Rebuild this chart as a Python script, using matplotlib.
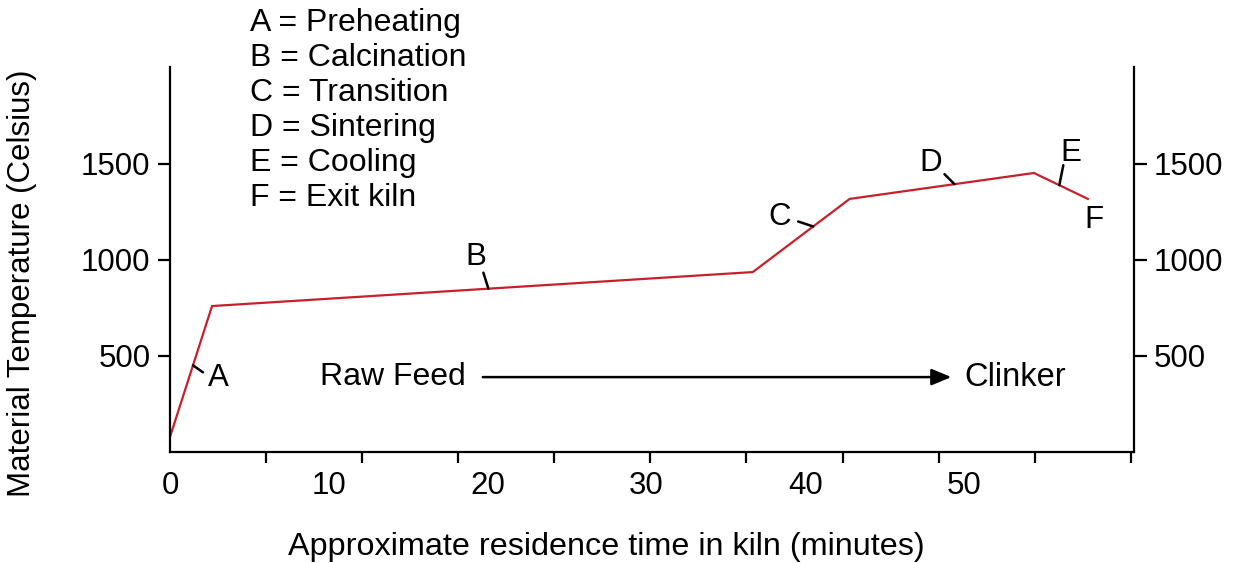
import numpy as np
import matplotlib.pyplot as plt

plt.rcParams["font.family"] = ["Liberation Sans", "DejaVu Sans"]

# Courbe de température de la matière dans le four (minutes, °C)
temps = [0, 2.65, 36.7, 42.8, 54.4, 57.8]
temperature = [78, 760, 937, 1318, 1453, 1318]

# Phases et leur description
phases = ["A", "B", "C", "D", "E", "F"]
descriptions = ["Preheating", "Calcination", "Transition", "Sintering", "Cooling", "Exit kiln"]
# position (en minutes) du repère de chaque phase sur la courbe
phases_temps = [1.45, 20.05, 40.5, 49.4, 56.0, 57.8]

graduations_x = [0, 10, 20, 30, 40, 50]
graduations_y = [500, 1000, 1500]

# Décalages en pixels : trait de repère puis lettre
decalage_trait = [(10, -7), (-5, 16), (-15, 5), (-10, 10), (4, 20), None]
decalage_lettre = [(25, -13), (-13, 32), (-34, 9), (-24, 21), (11, 32), (6, -21)]

fig = plt.figure(figsize=(12.37, 5.63), dpi=100)
ax = fig.add_axes([0.1374, 0.1972, 0.7793, 0.6838])

ax.plot(temps, temperature, color="#c8202a", linewidth=1.6, solid_joinstyle="miter")

ax.set_xlim(0, 60.7)
ax.set_ylim(0, 2005)

# Graduations principales (étiquettes seules) et secondaires (traits)
ax.set_xticks(graduations_x)
ax.set_xticklabels([str(v) for v in graduations_x])
ax.set_xticks(np.linspace(0, 60.5, 11), minor=True)
ax.tick_params(axis="x", which="major", length=0, pad=14, labelsize=22.5)
ax.tick_params(axis="x", which="minor", length=8, width=1.6, direction="out")

ax.set_yticks(graduations_y)
ax.tick_params(axis="y", which="major", length=9, width=1.6, direction="out",
               labelsize=22.5, left=True, right=True, labelleft=True, labelright=True, pad=5)

for cote in ["left", "right", "bottom"]:
    ax.spines[cote].set_linewidth(1.6)
ax.spines["top"].set_visible(False)

# Repères des phases sur la courbe
for lettre, t, trait, lettre_dec in zip(phases, phases_temps, decalage_trait, decalage_lettre):
    y = np.interp(t, temps, temperature)
    if trait is not None:
        ax.annotate("", xy=(t, y), xytext=trait, textcoords="offset pixels",
                    arrowprops=dict(arrowstyle="-", color="black", linewidth=1.8,
                                    shrinkA=0, shrinkB=0))
    ax.annotate(lettre, xy=(t, y), xytext=lettre_dec, textcoords="offset pixels",
                ha="center", va="center", fontsize=22.5)

# Légende des phases
for i, (lettre, desc) in enumerate(zip(phases, descriptions)):
    fig.text(250 / 1237, 1 - (23 + 35 * i) / 563, f"{lettre} = {desc}",
             ha="left", va="center", fontsize=23)

# Sens de déplacement de la matière
ax.annotate("", xy=(49.2, 390), xytext=(19.7, 390),
            arrowprops=dict(arrowstyle="-|>,head_length=1.2,head_width=0.5",
                            color="black", linewidth=1.8, shrinkA=0, shrinkB=0))
ax.text(18.6, 390, "Raw Feed", ha="right", va="center", fontsize=23)
ax.text(50.0, 390, "Clinker", ha="left", va="center", fontsize=23.5)

fig.text(606 / 1237, 1 - 547 / 563, "Approximate residence time in kiln (minutes)",
         ha="center", va="center", fontsize=23.3)
fig.text(22 / 1237, 1 - 283 / 563, "Material Temperature (Celsius)",
         ha="center", va="center", rotation=90, fontsize=22.5)

fig.savefig("out.png", dpi=100)
